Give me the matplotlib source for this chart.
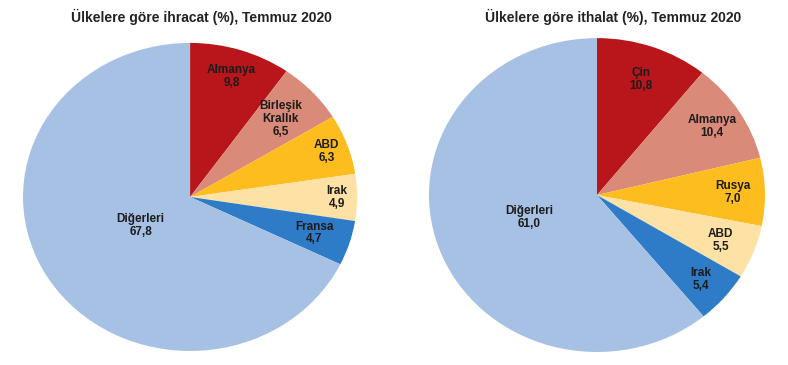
import numpy as np
import matplotlib.pyplot as plt

plt.rcParams['font.family'] = ['Liberation Sans', 'DejaVu Sans']

exp_labels = ["Almanya", "Birleşik\nKrallık", "ABD", "Irak", "Fransa", "Diğerleri"]
exp_values = [9.8, 6.5, 6.3, 4.9, 4.7, 67.8]

imp_labels = ["Çin", "Almanya", "Rusya", "ABD", "Irak", "Diğerleri"]
imp_values = [10.8, 10.4, 7.0, 5.5, 5.4, 61.0]

colors = ["#B8161B", "#DA8A78", "#FDBD1E", "#FEE1A4", "#2E7BC8", "#A7C1E5"]


def draw_pie(ax, labels, values, label_r, title, title_x):
    # pies in the source are slightly wider than tall, so no equal aspect
    wedges, _ = ax.pie(values, colors=colors, startangle=90,
                       counterclock=False,
                       wedgeprops=dict(linewidth=0))
    for w, lab, v, r in zip(wedges, labels, values, label_r):
        ang = np.deg2rad((w.theta1 + w.theta2) / 2)
        txt = lab + "\n" + f"{v:.1f}".replace(".", ",")
        ax.text(r * np.cos(ang), r * np.sin(ang), txt, ha="center",
                va="center", fontsize=8.5, fontweight="bold",
                color="#1c1c1c", linespacing=1.1)
    ax.set_aspect("auto")
    ax.set_xlim(-1, 1)
    ax.set_ylim(-1, 1)
    plt.gcf().text(title_x, 0.953, title, ha="center", va="center",
                   fontsize=10, fontweight="bold", color="#222222")


fig = plt.figure(figsize=(7.88, 3.65), dpi=100)
ax1 = fig.add_axes([0.0292, 0.0384, 0.424, 0.844])
ax2 = fig.add_axes([0.5444, 0.0356, 0.4264, 0.860])

draw_pie(ax1, exp_labels, exp_values, [0.82, 0.74, 0.87, 0.88, 0.78, 0.35],
         "Ülkelere göre ihracat (%), Temmuz 2020", 0.256)
draw_pie(ax2, imp_labels, imp_values, [0.78, 0.81, 0.81, 0.79, 0.82, 0.43],
         "Ülkelere göre ithalat (%), Temmuz 2020", 0.778)

fig.savefig("out.png", dpi=100)
